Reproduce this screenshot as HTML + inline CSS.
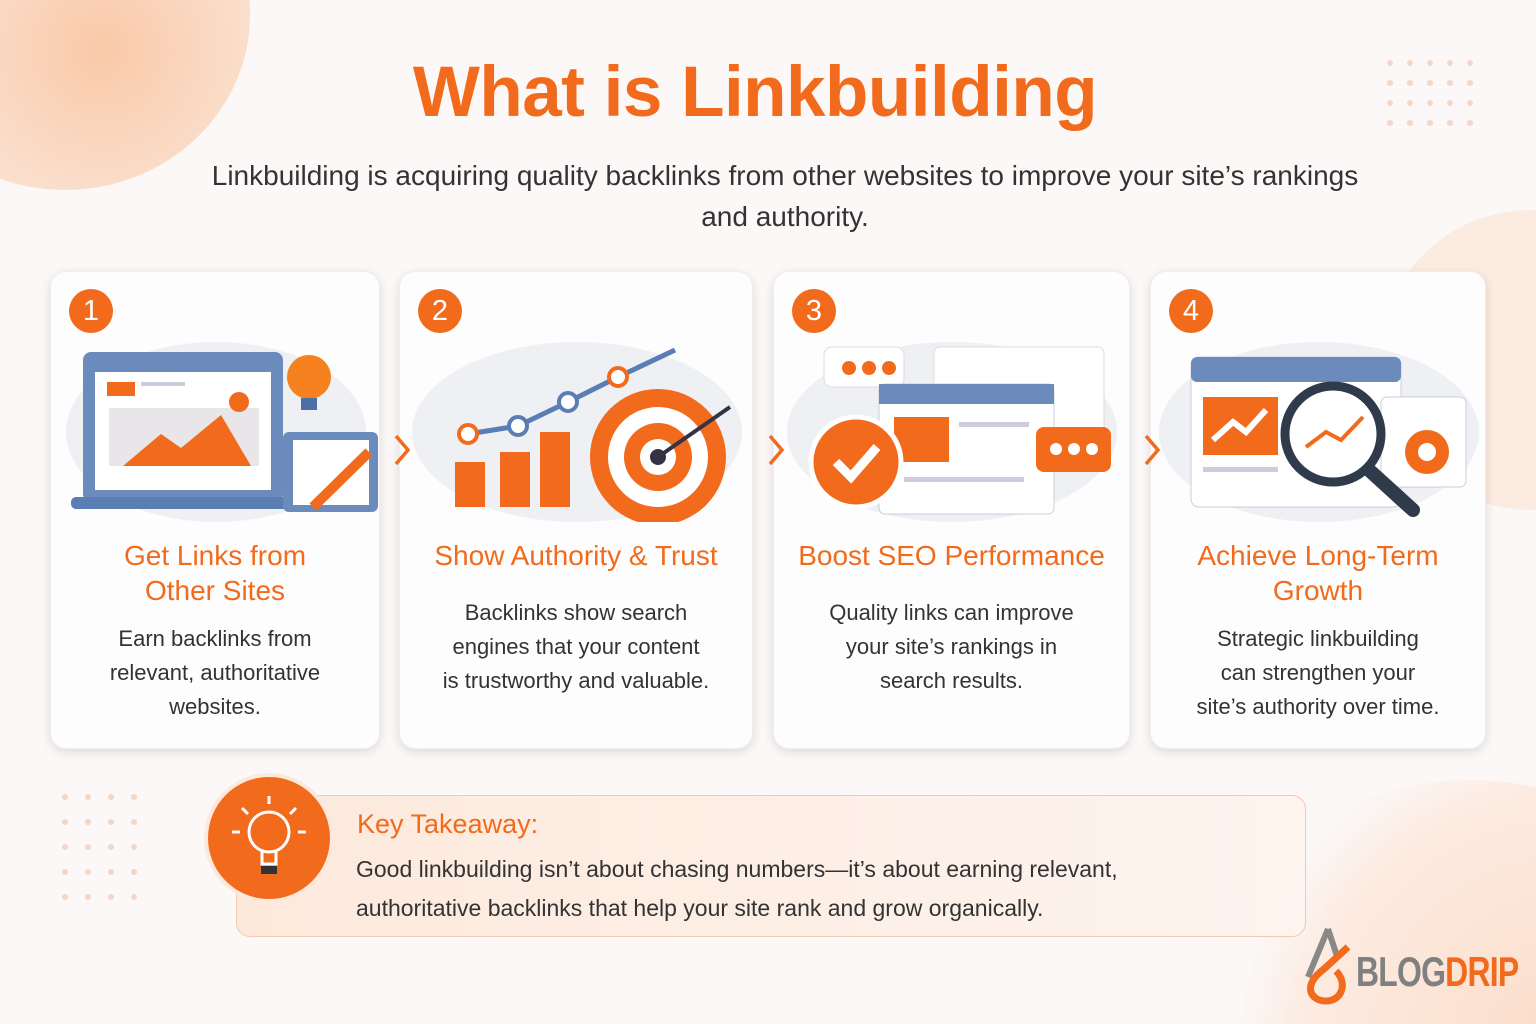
<!DOCTYPE html>
<html><head><meta charset="utf-8"><style>
*{margin:0;padding:0;box-sizing:border-box}
html,body{width:1536px;height:1024px;overflow:hidden}
body{background:#fbf8f7;font-family:"Liberation Sans","DejaVu Sans",sans-serif}
#wrap{position:relative;width:1536px;height:1024px;overflow:hidden}
.abs{position:absolute}
h1{position:absolute;left:0;width:1510px;top:52px;text-align:center;font-size:71px;font-weight:bold;color:#f26a1b;letter-spacing:-0.5px}
.sub{position:absolute;left:160px;width:1250px;top:155px;text-align:center;font-size:28px;line-height:41px;color:#333}
.card{position:absolute;top:271px;height:478px;background:#fdfdfd;border-radius:16px;box-shadow:0 3px 10px rgba(0,0,0,.12);border:1px solid #eee}
.badge{position:absolute;left:18px;top:17px;width:44px;height:44px;border-radius:50%;background:#f26a1b;color:#fff;font-size:29px;text-align:center;line-height:44px}
.t{position:absolute;left:0;width:100%;top:266px;text-align:center;color:#f26a1b;font-size:28px;line-height:35px}
.b{position:absolute;left:0;width:100%;text-align:center;color:#333;font-size:22px;line-height:34px}
svg.ill{position:absolute;left:0;top:50px}
.chev{position:absolute;top:432px;z-index:5}
</style></head><body><div id="wrap">
<div class="abs" style="left:-120px;top:-160px;width:370px;height:350px;border-radius:50%;background:radial-gradient(circle at 60% 60%,#f9c9a8,#fbe3d4 60%,#fbe8dd 100%)"></div>
<div class="abs" style="left:1380px;top:210px;width:300px;height:300px;border-radius:50%;background:#fcebe1"></div>
<div class="abs" style="left:1220px;top:780px;width:500px;height:400px;border-radius:50%;background:radial-gradient(circle at 70% 70%,#fbdcc8,#fcebe1 60%,#fbf8f7 75%)"></div>
<svg class="abs" style="left:1385px;top:58px" width="95" height="72"><g fill="#f3d6c6"><circle cx="5" cy="5" r="3"/><circle cx="25" cy="5" r="3"/><circle cx="45" cy="5" r="3"/><circle cx="65" cy="5" r="3"/><circle cx="85" cy="5" r="3"/><circle cx="5" cy="25" r="3"/><circle cx="25" cy="25" r="3"/><circle cx="45" cy="25" r="3"/><circle cx="65" cy="25" r="3"/><circle cx="85" cy="25" r="3"/><circle cx="5" cy="45" r="3"/><circle cx="25" cy="45" r="3"/><circle cx="45" cy="45" r="3"/><circle cx="65" cy="45" r="3"/><circle cx="85" cy="45" r="3"/><circle cx="5" cy="65" r="3"/><circle cx="25" cy="65" r="3"/><circle cx="45" cy="65" r="3"/><circle cx="65" cy="65" r="3"/><circle cx="85" cy="65" r="3"/></g></svg>
<svg class="abs" style="left:60px;top:792px" width="80" height="120"><g fill="#f3d6c6"><circle cx="5" cy="5" r="3"/><circle cx="28" cy="5" r="3"/><circle cx="51" cy="5" r="3"/><circle cx="74" cy="5" r="3"/><circle cx="5" cy="30" r="3"/><circle cx="28" cy="30" r="3"/><circle cx="51" cy="30" r="3"/><circle cx="74" cy="30" r="3"/><circle cx="5" cy="55" r="3"/><circle cx="28" cy="55" r="3"/><circle cx="51" cy="55" r="3"/><circle cx="74" cy="55" r="3"/><circle cx="5" cy="80" r="3"/><circle cx="28" cy="80" r="3"/><circle cx="51" cy="80" r="3"/><circle cx="74" cy="80" r="3"/><circle cx="5" cy="105" r="3"/><circle cx="28" cy="105" r="3"/><circle cx="51" cy="105" r="3"/><circle cx="74" cy="105" r="3"/></g></svg>

<h1>What is Linkbuilding</h1>
<div class="sub">Linkbuilding is acquiring quality backlinks from other websites to improve your site’s rankings<br>and authority.</div>

<div class="card" style="left:50px;width:330px">
<div class="badge">1</div>
<svg class="ill" width="330" height="200"><ellipse cx="165" cy="110" rx="150" ry="90" fill="#eef0f4"/>
<rect x="32" y="30" width="200" height="150" rx="8" fill="#6b8bbd"/><rect x="44" y="50" width="176" height="118" fill="#fff"/>
<rect x="20" y="175" width="230" height="12" rx="5" fill="#5a7db3"/>
<rect x="56" y="60" width="28" height="14" fill="#f26a1b"/><rect x="90" y="60" width="44" height="4" fill="#ccd"/>
<rect x="58" y="86" width="150" height="58" fill="#e8e6e8"/><path d="M72 144 L110 112 L130 126 L170 93 L200 144Z" fill="#f26a1b"/>
<circle cx="188" cy="80" r="10" fill="#f26a1b"/><circle cx="258" cy="55" r="22" fill="#f5811f"/><rect x="250" y="76" width="16" height="12" fill="#4e6fa5"/>
<rect x="232" y="110" width="95" height="80" rx="6" fill="#6b8bbd"/><rect x="242" y="118" width="76" height="65" fill="#fff"/><path d="M262 185 L318 130" stroke="#f26a1b" stroke-width="10"/></svg>
<div class="t">Get Links from<br>Other Sites</div>
<div class="b" style="top:350px">Earn backlinks from<br>relevant, authoritative<br>websites.</div>
</div>
<svg class="chev" style="left:390px" width="24" height="36"><path d="M6 4 L18 18 L6 32" fill="none" stroke="#f26a1b" stroke-width="3.5"/></svg>

<div class="card" style="left:399px;width:354px">
<div class="badge">2</div>
<svg class="ill" width="354" height="200"><ellipse cx="177" cy="110" rx="165" ry="90" fill="#eef0f4"/>
<rect x="55" y="140" width="30" height="45" fill="#f26a1b"/><rect x="100" y="130" width="30" height="55" fill="#f26a1b"/><rect x="140" y="110" width="30" height="75" fill="#f26a1b"/>
<polyline points="68,112 118,104 168,80 218,55 275,28" fill="none" stroke="#5a7db3" stroke-width="5"/>
<circle cx="68" cy="112" r="9" fill="#fff" stroke="#f26a1b" stroke-width="4"/><circle cx="118" cy="104" r="9" fill="#fff" stroke="#5a7db3" stroke-width="4"/><circle cx="168" cy="80" r="9" fill="#fff" stroke="#5a7db3" stroke-width="4"/><circle cx="218" cy="55" r="9" fill="#fff" stroke="#f26a1b" stroke-width="4"/>
<circle cx="258" cy="135" r="68" fill="#f26a1b"/><circle cx="258" cy="135" r="50" fill="#fff"/><circle cx="258" cy="135" r="34" fill="#f26a1b"/><circle cx="258" cy="135" r="18" fill="#fff"/><circle cx="258" cy="135" r="8" fill="#334"/>
<path d="M258 135 L330 85" stroke="#334" stroke-width="4"/></svg>
<div class="t">Show Authority &amp; Trust</div>
<div class="b" style="top:324px">Backlinks show search<br>engines that your content<br>is trustworthy and valuable.</div>
</div>
<svg class="chev" style="left:764px" width="24" height="36"><path d="M6 4 L18 18 L6 32" fill="none" stroke="#f26a1b" stroke-width="3.5"/></svg>

<div class="card" style="left:773px;width:357px">
<div class="badge">3</div>
<svg class="ill" width="357" height="200"><ellipse cx="178" cy="110" rx="165" ry="90" fill="#eef0f4"/>
<rect x="50" y="25" width="80" height="40" rx="8" fill="#fff" stroke="#ddd"/><circle cx="75" cy="46" r="7" fill="#f26a1b"/><circle cx="95" cy="46" r="7" fill="#f26a1b"/><circle cx="115" cy="46" r="7" fill="#f26a1b"/>
<rect x="160" y="25" width="170" height="100" rx="6" fill="#fff" stroke="#ddd"/>
<rect x="105" y="62" width="175" height="130" rx="6" fill="#fff" stroke="#ccd"/><rect x="105" y="62" width="175" height="20" fill="#6b8bbd"/>
<rect x="120" y="95" width="55" height="45" fill="#f26a1b"/><rect x="185" y="100" width="70" height="5" fill="#ccd"/><rect x="130" y="155" width="120" height="5" fill="#ccd"/>
<circle cx="82" cy="140" r="45" fill="#f26a1b" stroke="#fff" stroke-width="5"/><path d="M62 140 L77 155 L103 125" fill="none" stroke="#fff" stroke-width="9"/>
<rect x="262" y="105" width="75" height="45" rx="8" fill="#f26a1b"/><circle cx="282" cy="127" r="6" fill="#fff"/><circle cx="300" cy="127" r="6" fill="#fff"/><circle cx="318" cy="127" r="6" fill="#fff"/></svg>
<div class="t">Boost SEO Performance</div>
<div class="b" style="top:324px">Quality links can improve<br>your site’s rankings in<br>search results.</div>
</div>
<svg class="chev" style="left:1140px" width="24" height="36"><path d="M6 4 L18 18 L6 32" fill="none" stroke="#f26a1b" stroke-width="3.5"/></svg>

<div class="card" style="left:1150px;width:336px">
<div class="badge">4</div>
<svg class="ill" width="336" height="200"><ellipse cx="168" cy="110" rx="160" ry="90" fill="#eef0f4"/>
<rect x="40" y="35" width="210" height="150" rx="8" fill="#fff" stroke="#ccd"/><rect x="40" y="35" width="210" height="25" rx="6" fill="#6b8bbd"/>
<rect x="52" y="75" width="75" height="58" fill="#f26a1b"/><path d="M62 118 L82 100 L95 110 L115 88" fill="none" stroke="#fff" stroke-width="6"/>
<rect x="52" y="145" width="75" height="5" fill="#ccd"/><rect x="230" y="75" width="85" height="90" rx="6" fill="#fff" stroke="#ccd"/>
<circle cx="182" cy="112" r="48" fill="#fff" stroke="#2f3a4a" stroke-width="9"/><path d="M155 125 L175 110 L190 118 L212 95" fill="none" stroke="#f26a1b" stroke-width="4"/>
<path d="M218 148 L262 188" stroke="#2f3a4a" stroke-width="14" stroke-linecap="round"/>
<circle cx="276" cy="130" r="22" fill="#f26a1b"/><circle cx="276" cy="130" r="9" fill="#fff"/></svg>
<div class="t">Achieve Long-Term<br>Growth</div>
<div class="b" style="top:350px">Strategic linkbuilding<br>can strengthen your<br>site’s authority over time.</div>
</div>

<div class="abs" style="left:236px;top:795px;width:1070px;height:142px;border-radius:14px;border:1.5px solid #f5c9ad;background:linear-gradient(90deg,#fde9dc,#fdf4ef)"></div>
<div class="abs" style="left:208px;top:777px;width:122px;height:122px;border-radius:50%;background:#f26a1b;box-shadow:0 0 0 4px #fde9dc"></div>
<svg class="abs" style="left:220px;top:790px" width="100" height="100"><g stroke="#fff" stroke-width="3" fill="none"><circle cx="49" cy="42" r="20"/><path d="M42 62 L42 74 L56 74 L56 62"/><path d="M49 6 V14 M22 18 L28 24 M76 18 L70 24 M12 42 H20 M78 42 H86"/></g><rect x="41" y="76" width="16" height="8" fill="#333"/></svg>
<div class="abs" style="left:357px;top:809px;font-size:27px;color:#f26a1b">Key Takeaway:</div>
<div class="abs" style="left:356px;top:850px;font-size:23px;line-height:39px;color:#333">Good linkbuilding isn’t about chasing numbers—it’s about earning relevant,<br>authoritative backlinks that help your site rank and grow organically.</div>

<svg class="abs" style="left:1298px;top:925px" width="60" height="80"><path d="M30 4 L10 52" stroke="#888" stroke-width="6" fill="none"/><path d="M30 4 L40 34" stroke="#888" stroke-width="6" fill="none"/><path d="M50 22 L26 44 C4 60 12 76 28 76 C44 76 50 58 38 46" stroke="#f26a1b" stroke-width="7" fill="none"/></svg>
<div class="abs" style="left:1356px;top:948px;font-size:42px;font-weight:bold;letter-spacing:-1px;transform:scaleX(.76);transform-origin:left"><span style="color:#808080">BLOG</span><span style="color:#f26a1b">DRIP</span></div>
</div></body></html>
